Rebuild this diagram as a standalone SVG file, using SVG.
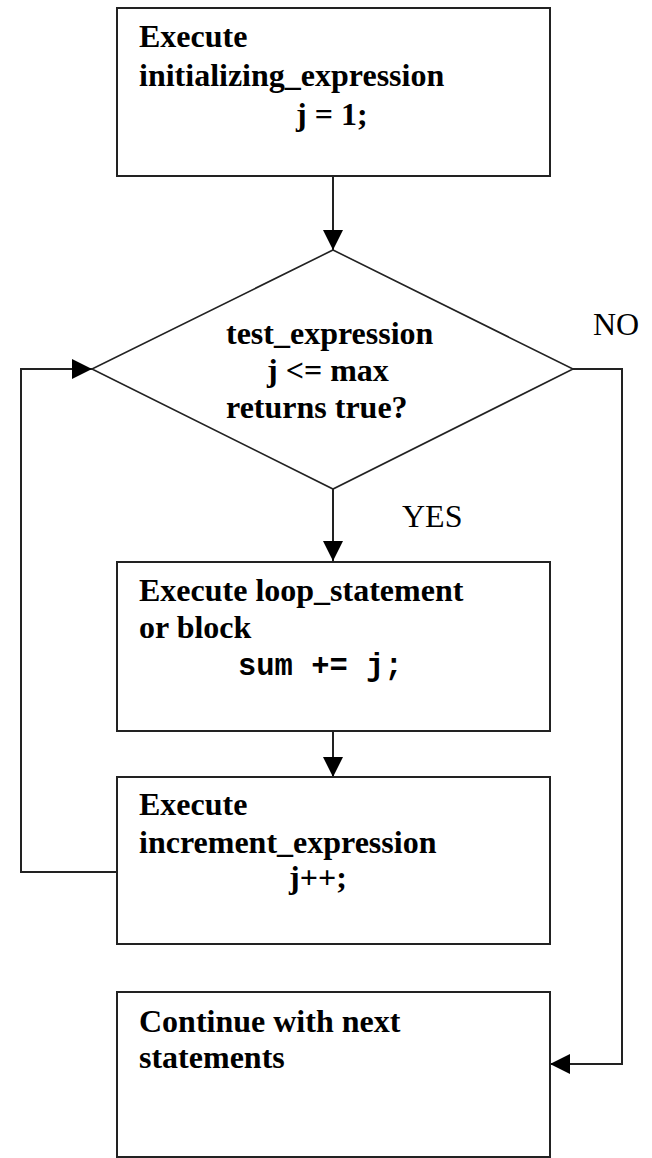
<svg xmlns="http://www.w3.org/2000/svg" width="652" height="1158" viewBox="0 0 652 1158">
<style>
.box{fill:#fff;stroke:#222;stroke-width:2}
.dia{fill:#fff;stroke:#222;stroke-width:1.6}
.t{font-family:"Liberation Serif","Times New Roman",serif;font-weight:bold;font-size:32px;fill:#000}
.m{font-family:"Liberation Mono","Courier New",monospace;font-weight:bold;font-size:30.5px;fill:#000}
.lbl{font-family:"Liberation Serif","Times New Roman",serif;font-size:32px;fill:#000}
.c{fill:none;stroke:#222;stroke-width:2}
</style>
<defs>
<marker id="ah" viewBox="0 0 20 20" refX="20" refY="10" markerWidth="20" markerHeight="20" markerUnits="userSpaceOnUse" orient="auto">
<path d="M0,0 L20,10 L0,20 z" fill="#000"/>
</marker>
</defs>
<g id="connectors">
<line class="c" x1="333" y1="176" x2="333" y2="250" marker-end="url(#ah)"/>
<line class="c" x1="333" y1="489" x2="333" y2="561" marker-end="url(#ah)"/>
<line class="c" x1="333" y1="731" x2="333" y2="777" marker-end="url(#ah)"/>
<polyline class="c" points="117,872 21,872 21,369 92,369" marker-end="url(#ah)"/>
<polyline class="c" points="573,369 622,369 622,1064 550,1064" marker-end="url(#ah)"/>
</g>
<g id="init">
<rect class="box" x="117" y="8" width="433" height="168"/>
<text class="t" x="139" y="47">Execute</text>
<text class="t" x="139" y="86">initializing_expression</text>
<text class="t" x="296" y="125">j = 1;</text>
</g>
<g id="test">
<polygon class="dia" points="333,250 573,369 333,489 92,369"/>
<text class="t" x="226" y="344">test_expression</text>
<text class="t" x="267" y="381">j &lt;= max</text>
<text class="t" x="226" y="418">returns true?</text>
</g>
<g id="labels">
<text class="lbl" x="593" y="335">NO</text>
<text class="lbl" x="402" y="527">YES</text>
</g>
<g id="body">
<rect class="box" x="117" y="562" width="433" height="169"/>
<text class="t" x="139" y="601">Execute loop_statement</text>
<text class="t" x="139" y="638">or block</text>
<text class="m" x="238" y="675">sum += j;</text>
</g>
<g id="incr">
<rect class="box" x="117" y="777" width="433" height="167"/>
<text class="t" x="139" y="815">Execute</text>
<text class="t" x="139" y="853">increment_expression</text>
<text class="t" x="289" y="888">j++;</text>
</g>
<g id="next">
<rect class="box" x="117" y="992" width="433" height="165"/>
<text class="t" x="139" y="1032">Continue with next</text>
<text class="t" x="139" y="1068">statements</text>
</g>
</svg>
